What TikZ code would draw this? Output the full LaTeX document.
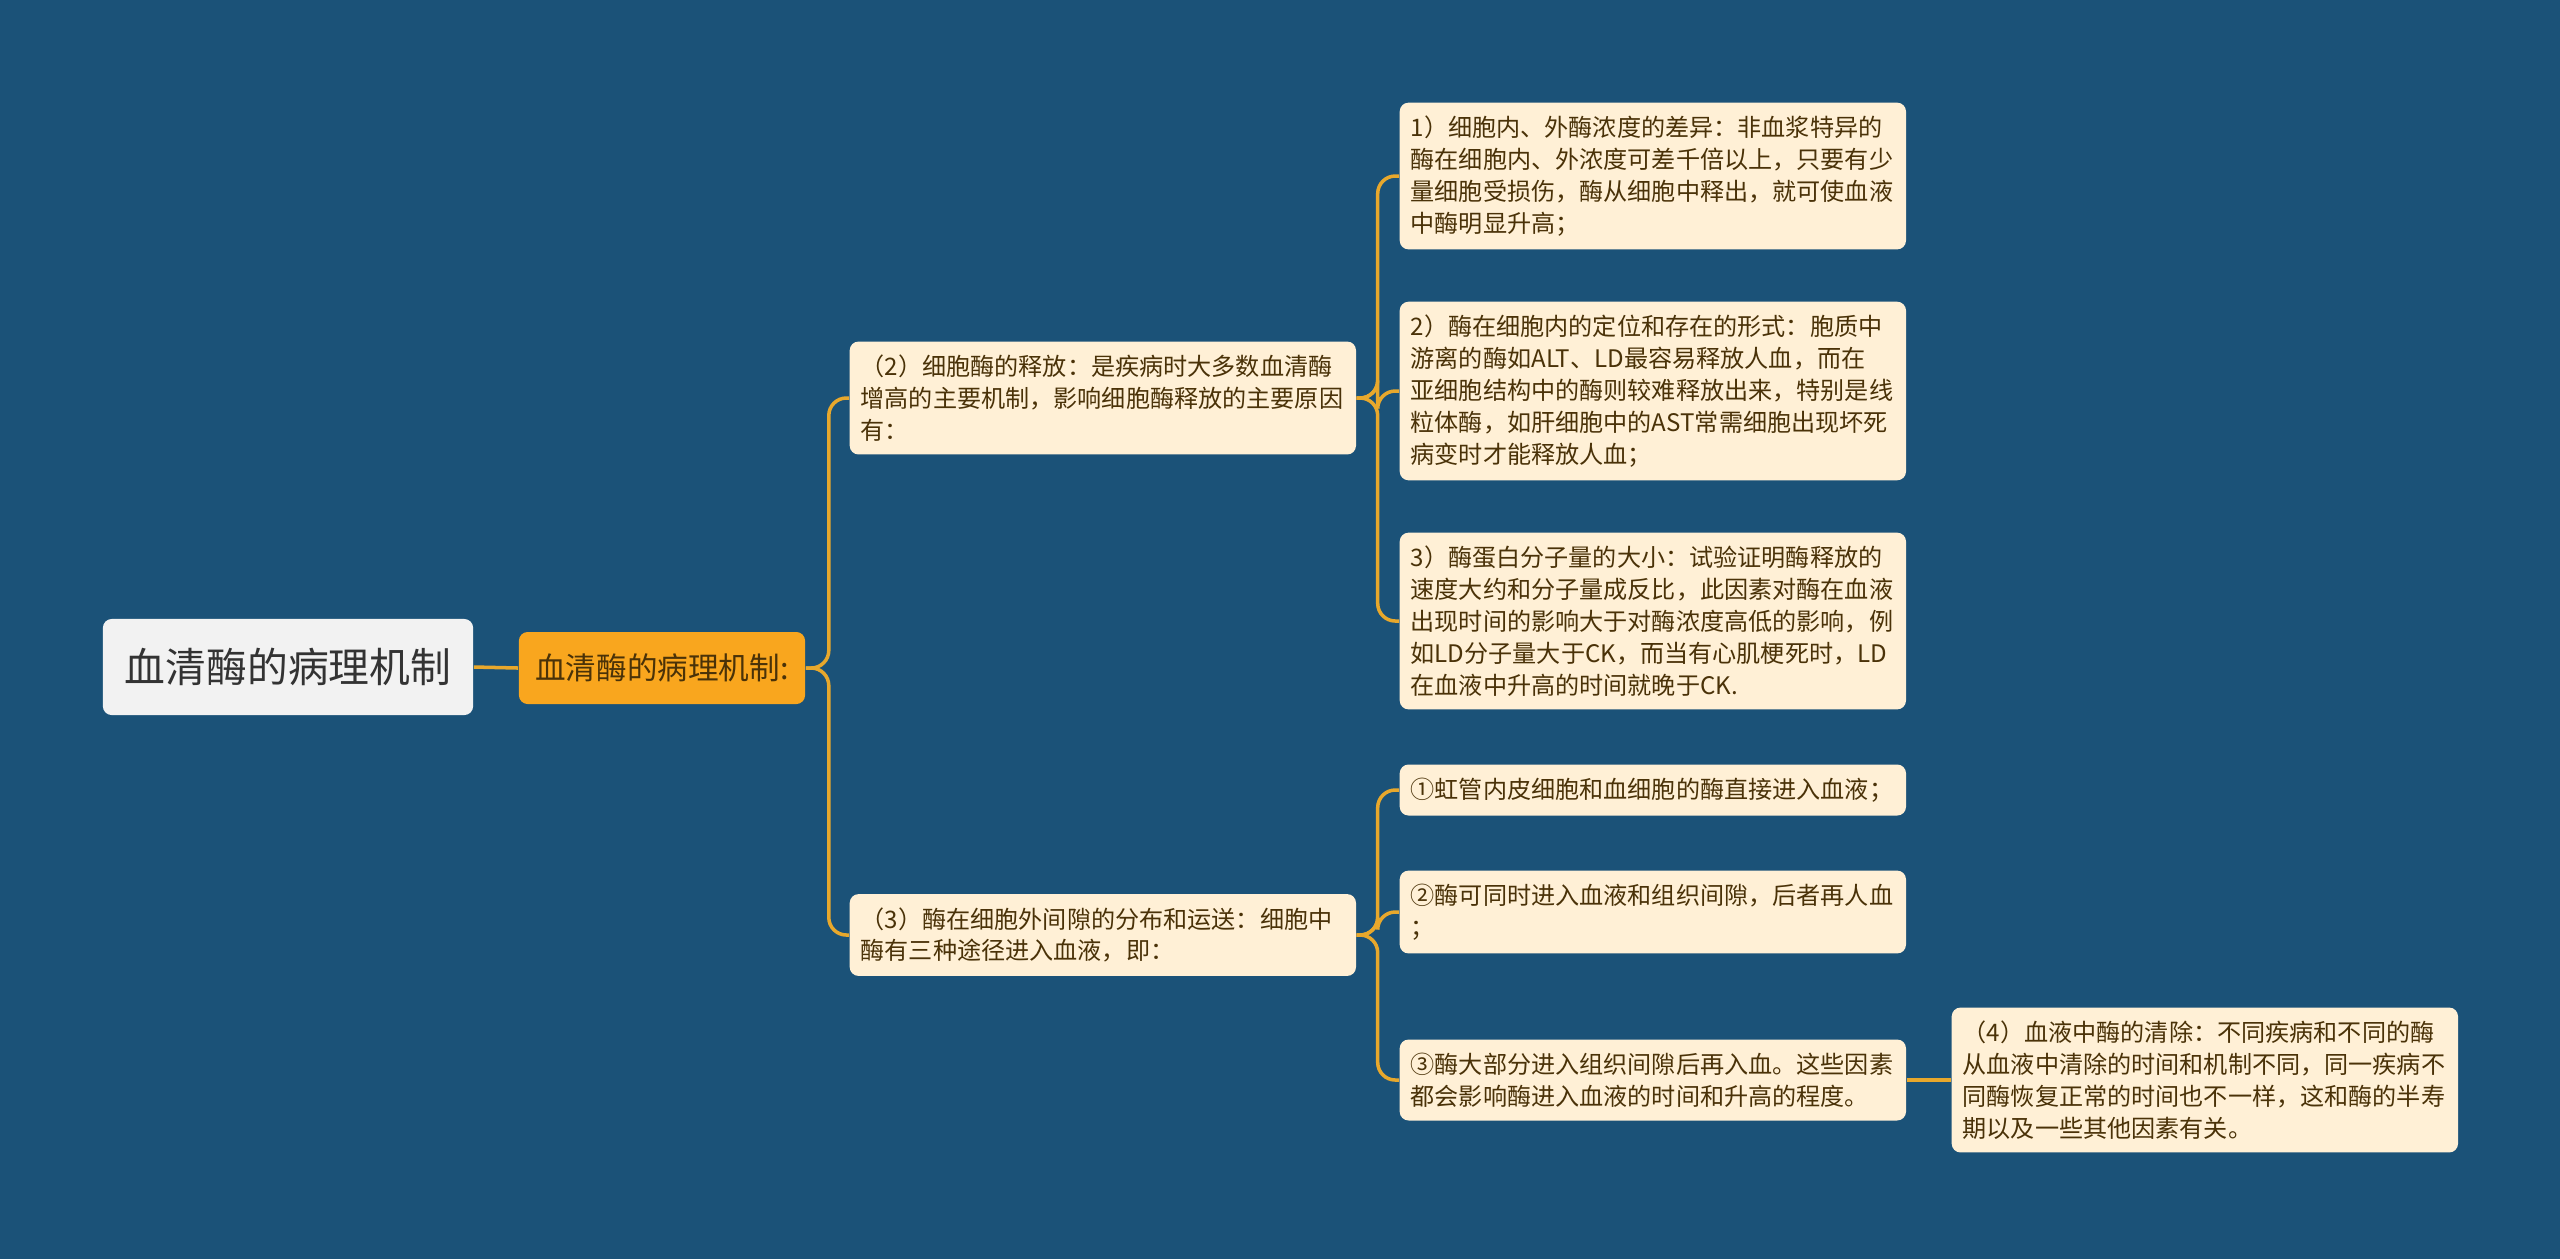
\documentclass[tikz,border=0pt]{standalone}
\usepackage{fontspec}
\setmainfont{Noto Sans CJK SC}

\definecolor{bgblue}{RGB}{27,82,120}
\definecolor{linegold}{RGB}{232,168,44}
\definecolor{leafcream}{RGB}{255,240,214}
\definecolor{leafink}{RGB}{74,50,8}
\definecolor{midorange}{RGB}{249,166,30}
\definecolor{rootgray}{RGB}{242,242,242}

\tikzset{
    rootbox/.style={rectangle, rounded corners=2.5pt, fill=rootgray, text=black!80,
        minimum width=3.70cm, minimum height=0.96cm, inner sep=0pt,
        font=\fontsize{11.6}{14}\selectfont},
    midbox/.style={rectangle, rounded corners=2.5pt, fill=midorange, text=leafink,
        minimum width=2.86cm, minimum height=0.72cm, inner sep=0pt,
        font=\fontsize{8.7}{10}\selectfont},
    leaf/.style={rectangle, rounded corners=2.5pt, fill=leafcream, text=leafink,
        anchor=west, align=left, text width=4.84cm, inner xsep=0.11cm, inner ysep=3.8pt,
        font=\fontsize{6.86}{9.05}\selectfont},
    link/.style={draw=linegold, line width=1pt, rounded corners=5pt}
}

\begin{document}
\begin{tikzpicture}[x=0.01cm,y=-0.01cm]

    % background
    \fill[bgblue] (0,0) rectangle (2560,1259);
    \useasboundingbox (0,0) rectangle (2560,1259);

    % root and middle
    \node[rootbox] (root) at (288,667) {血清酶的病理机制};
    \node[midbox] (mid) at (662,668) {血清酶的病理机制:};

    % second level
    \node[leaf] (rel) at (849,398) {（2）细胞酶的释放：是疾病时大多数血清酶\\增高的主要机制，影响细胞酶释放的主要原因\\有：};
    \node[leaf] (dist) at (849,935) {（3）酶在细胞外间隙的分布和运送：细胞中\\酶有三种途径进入血液，即：};

    % causes of release
    \node[leaf] (conc) at (1399,176) {1）细胞内、外酶浓度的差异：非血浆特异的\\酶在细胞内、外浓度可差千倍以上，只要有少\\量细胞受损伤，酶从细胞中释出，就可使血液\\中酶明显升高；};
    \node[leaf] (loc) at (1399,391) {2）酶在细胞内的定位和存在的形式：胞质中\\游离的酶如ALT、LD最容易释放人血，而在\\亚细胞结构中的酶则较难释放出来，特别是线\\粒体酶，如肝细胞中的AST常需细胞出现坏死\\病变时才能释放人血；};
    \node[leaf] (size) at (1399,621) {3）酶蛋白分子量的大小：试验证明酶释放的\\速度大约和分子量成反比，此因素对酶在血液\\出现时间的影响大于对酶浓度高低的影响，例\\如LD分子量大于CK，而当有心肌梗死时，LD\\在血液中升高的时间就晚于CK.};

    % three routes
    \node[leaf] (way1) at (1399,790) {①虹管内皮细胞和血细胞的酶直接进入血液；};
    \node[leaf] (way2) at (1399,912) {②酶可同时进入血液和组织间隙，后者再人血\\；};
    \node[leaf] (way3) at (1399,1080) {③酶大部分进入组织间隙后再入血。这些因素\\都会影响酶进入血液的时间和升高的程度。};

    % clearance
    \node[leaf] (clear) at (1951,1080) {（4）血液中酶的清除：不同疾病和不同的酶\\从血液中清除的时间和机制不同，同一疾病不\\同酶恢复正常的时间也不一样，这和酶的半寿\\期以及一些其他因素有关。};

    % connectors
    \draw[link] (root.east) -- (mid.west);
    \foreach \n in {rel,dist}
        \draw[link] (mid.east) -- ++(23,0) |- (\n.west);
    \foreach \n in {conc,loc,size}
        \draw[link] (rel.east) -- ++(21,0) |- (\n.west);
    \foreach \n in {way1,way2,way3}
        \draw[link] (dist.east) -- ++(21,0) |- (\n.west);
    \draw[link] (way3.east) -- (clear.west);

\end{tikzpicture}
\end{document}
